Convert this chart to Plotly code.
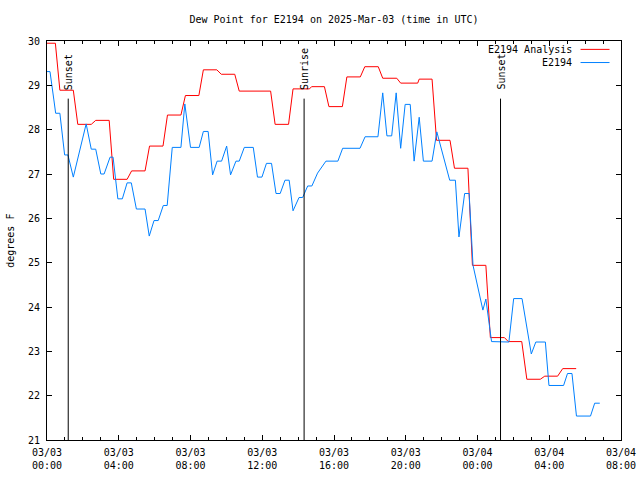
import plotly.graph_objects as go

# ---------------- data ----------------
analysis_times = [
    "2025-03-03 00:00", "2025-03-03 00:28", "2025-03-03 00:43", "2025-03-03 01:28", "2025-03-03 01:43",
    "2025-03-03 02:28", "2025-03-03 02:43", "2025-03-03 03:28", "2025-03-03 03:43", "2025-03-03 04:28",
    "2025-03-03 04:43", "2025-03-03 05:28", "2025-03-03 05:43", "2025-03-03 06:28", "2025-03-03 06:43",
    "2025-03-03 07:28", "2025-03-03 07:43", "2025-03-03 08:28", "2025-03-03 08:43", "2025-03-03 09:28",
    "2025-03-03 09:43", "2025-03-03 10:28", "2025-03-03 10:43", "2025-03-03 12:28", "2025-03-03 12:43",
    "2025-03-03 13:28", "2025-03-03 13:43", "2025-03-03 14:38", "2025-03-03 14:45", "2025-03-03 15:28",
    "2025-03-03 15:43", "2025-03-03 16:28", "2025-03-03 16:43", "2025-03-03 17:28", "2025-03-03 17:43",
    "2025-03-03 18:28", "2025-03-03 18:43", "2025-03-03 19:30", "2025-03-03 19:43", "2025-03-03 20:40",
    "2025-03-03 20:45", "2025-03-03 21:28", "2025-03-03 21:43", "2025-03-03 22:28", "2025-03-03 22:43",
    "2025-03-03 23:28", "2025-03-03 23:43", "2025-03-04 00:28", "2025-03-04 00:43", "2025-03-04 01:30",
    "2025-03-04 01:43", "2025-03-04 02:28", "2025-03-04 02:45", "2025-03-04 03:30", "2025-03-04 03:45",
    "2025-03-04 04:28", "2025-03-04 04:45", "2025-03-04 05:30",
]
analysis_values = [
    29.95, 29.95, 28.89, 28.89, 28.12,
    28.12, 28.21, 28.21, 26.88, 26.88,
    27.07, 27.07, 27.63, 27.63, 28.33,
    28.33, 28.77, 28.77, 29.35, 29.35,
    29.25, 29.25, 28.87, 28.87, 28.12,
    28.12, 28.92, 28.92, 28.97, 28.97,
    28.52, 28.52, 29.19, 29.19, 29.42,
    29.42, 29.16, 29.16, 29.05, 29.05,
    29.14, 29.14, 27.76, 27.76, 27.13,
    27.13, 24.94, 24.94, 23.31, 23.31,
    23.22, 23.22, 22.37, 22.37, 22.44,
    22.44, 22.61, 22.61,
]

station_times = [
    "2025-03-03 00:00", "2025-03-03 00:10", "2025-03-03 00:23", "2025-03-03 00:29", "2025-03-03 00:43",
    "2025-03-03 00:59", "2025-03-03 01:10", "2025-03-03 01:28", "2025-03-03 02:11", "2025-03-03 02:28",
    "2025-03-03 02:43", "2025-03-03 03:00", "2025-03-03 03:11", "2025-03-03 03:31", "2025-03-03 03:41",
    "2025-03-03 03:57", "2025-03-03 04:12", "2025-03-03 04:28", "2025-03-03 04:42", "2025-03-03 04:59",
    "2025-03-03 05:28", "2025-03-03 05:42", "2025-03-03 05:58", "2025-03-03 06:12", "2025-03-03 06:29",
    "2025-03-03 06:42", "2025-03-03 06:59", "2025-03-03 07:28", "2025-03-03 07:41", "2025-03-03 08:00",
    "2025-03-03 08:29", "2025-03-03 08:43", "2025-03-03 08:59", "2025-03-03 09:14", "2025-03-03 09:29",
    "2025-03-03 09:44", "2025-03-03 10:01", "2025-03-03 10:14", "2025-03-03 10:32", "2025-03-03 10:43",
    "2025-03-03 11:00", "2025-03-03 11:30", "2025-03-03 11:44", "2025-03-03 11:59", "2025-03-03 12:14",
    "2025-03-03 12:31", "2025-03-03 12:46", "2025-03-03 13:00", "2025-03-03 13:16", "2025-03-03 13:30",
    "2025-03-03 13:43", "2025-03-03 14:03", "2025-03-03 14:15", "2025-03-03 14:32", "2025-03-03 14:46",
    "2025-03-03 15:05", "2025-03-03 15:33", "2025-03-03 16:13", "2025-03-03 16:29", "2025-03-03 17:27",
    "2025-03-03 17:44", "2025-03-03 18:27", "2025-03-03 18:43", "2025-03-03 18:57", "2025-03-03 19:13",
    "2025-03-03 19:28", "2025-03-03 19:43", "2025-03-03 19:58", "2025-03-03 20:15", "2025-03-03 20:28",
    "2025-03-03 20:45", "2025-03-03 20:59", "2025-03-03 21:28", "2025-03-03 21:44", "2025-03-03 22:27",
    "2025-03-03 22:46", "2025-03-03 22:58", "2025-03-03 23:17", "2025-03-03 23:32", "2025-03-03 23:45",
    "2025-03-04 00:18", "2025-03-04 00:28", "2025-03-04 00:47", "2025-03-04 01:45", "2025-03-04 02:01",
    "2025-03-04 02:29", "2025-03-04 03:00", "2025-03-04 03:15", "2025-03-04 03:47", "2025-03-04 03:59",
    "2025-03-04 04:48", "2025-03-04 05:01", "2025-03-04 05:16", "2025-03-04 05:31", "2025-03-04 06:18",
    "2025-03-04 06:32", "2025-03-04 06:49",
]
station_values = [
    29.31, 29.31, 28.67, 28.37, 28.37,
    27.43, 27.43, 26.93, 28.13, 27.56,
    27.56, 27.00, 27.00, 27.38, 27.38,
    26.44, 26.44, 26.80, 26.80, 26.21,
    26.21, 25.60, 25.95, 25.95, 26.29,
    26.29, 27.60, 27.60, 28.58, 27.60,
    27.60, 27.96, 27.96, 26.98, 27.29,
    27.29, 27.63, 26.98, 27.29, 27.29,
    27.60, 27.60, 26.93, 26.93, 27.24,
    27.24, 26.56, 26.56, 26.86, 26.86,
    26.17, 26.47, 26.47, 26.73, 26.73,
    27.02, 27.29, 27.29, 27.58, 27.58,
    27.84, 27.84, 28.83, 27.86, 27.86,
    28.83, 27.58, 28.57, 28.57, 27.29,
    28.28, 27.29, 27.29, 27.95, 26.86,
    26.86, 25.58, 26.56, 26.56, 24.94,
    23.93, 24.18, 23.22, 23.21, 24.19,
    24.19, 22.94, 23.21, 23.21, 22.23,
    22.23, 22.50, 22.50, 21.54, 21.54,
    21.83, 21.83,
]

event_times = ["2025-03-03 01:11", "2025-03-03 14:20", "2025-03-04 01:17"]
event_labels = ["Sunset", "Sunrise", "Sunset"]

tick_times = [
    "2025-03-03 00:00", "2025-03-03 04:00", "2025-03-03 08:00", "2025-03-03 12:00", "2025-03-03 16:00",
    "2025-03-03 20:00", "2025-03-04 00:00", "2025-03-04 04:00", "2025-03-04 08:00",
]
tick_labels = [
    "03/03<br>00:00", "03/03<br>04:00", "03/03<br>08:00", "03/03<br>12:00", "03/03<br>16:00",
    "03/03<br>20:00", "03/04<br>00:00", "03/04<br>04:00", "03/04<br>08:00",
]
y_ticks = [21, 22, 23, 24, 25, 26, 27, 28, 29, 30]

series_names = ["E2194 Analysis", "E2194"]
series_colors = ["#ff0000", "#0080ff"]

# ---------------- figure ----------------
FONT = "DejaVu Sans Mono"
fig = go.Figure()
fig.add_trace(go.Scatter(x=analysis_times, y=analysis_values, mode="lines",
                         line=dict(color=series_colors[0], width=1), name=series_names[0],
                         showlegend=False))
fig.add_trace(go.Scatter(x=station_times, y=station_values, mode="lines",
                         line=dict(color=series_colors[1], width=1), name=series_names[1],
                         showlegend=False))

for t, lab in zip(event_times, event_labels):
    fig.add_shape(type="line", xref="x", yref="y", x0=t, x1=t, y0=21, y1=28.7,
                  line=dict(color="black", width=1))
    fig.add_annotation(x=t, y=28.85, xref="x", yref="y", text=lab, textangle=-90,
                       showarrow=False, xanchor="center", yanchor="bottom", xshift=1,
                       font=dict(family=FONT, size=10, color="black"))

# legend (gnuplot style: text then sample on the right)
leg_y = [0.979, 0.946]
for name, col, yy in zip(series_names, series_colors, leg_y):
    fig.add_annotation(x=0.9175, y=yy, xref="paper", yref="paper", text=name,
                       showarrow=False, xanchor="right", yanchor="middle",
                       font=dict(family=FONT, size=10, color="black"))
    fig.add_shape(type="line", xref="paper", yref="paper", x0=0.9295, x1=0.98,
                  y0=yy, y1=yy, line=dict(color=col, width=1))

fig.add_annotation(x=-0.064, y=0.5, xref="paper", yref="paper", text="degrees F",
                   textangle=-90, showarrow=False, xanchor="center", yanchor="middle",
                   font=dict(family=FONT, size=10, color="black"))

fig.update_layout(
    width=640, height=480,
    margin=dict(l=47, r=18.5, t=41, b=40, pad=0, autoexpand=False),
    paper_bgcolor="white", plot_bgcolor="white",
    font=dict(family=FONT, size=10, color="black"),
    title=dict(text="Dew Point for E2194 on 2025-Mar-03 (time in UTC)", x=0.5, xref="paper",
               y=1 - 19 / 480, yanchor="middle", xanchor="center",
               font=dict(family=FONT, size=10, color="black")),
    showlegend=False,
)
fig.update_xaxes(
    type="date", range=["2025-03-03 00:00", "2025-03-04 08:00"], automargin=False,
    tickmode="array", tickvals=tick_times, ticktext=tick_labels,
    ticks="inside", ticklen=5, tickcolor="black", tickwidth=1,
    showline=True, linecolor="black", linewidth=1, mirror="allticks",
    showgrid=False, zeroline=False, ticklabelstandoff=3,
    minor=dict(tickmode="linear", tick0="2025-03-03 00:00", dtick=3600000,
               ticks="inside", ticklen=3, tickcolor="black", showgrid=False),
)
fig.update_yaxes(
    range=[21, 30], tickmode="array", tickvals=y_ticks, automargin=False,
    ticks="inside", ticklen=5, tickcolor="black", tickwidth=1,
    showline=True, linecolor="black", linewidth=1, mirror="allticks",
    showgrid=False, zeroline=False, ticklabelstandoff=4,
)

fig.write_html("out.html", config={"displayModeBar": False},
               post_script="document.body.style.margin='0px';")
